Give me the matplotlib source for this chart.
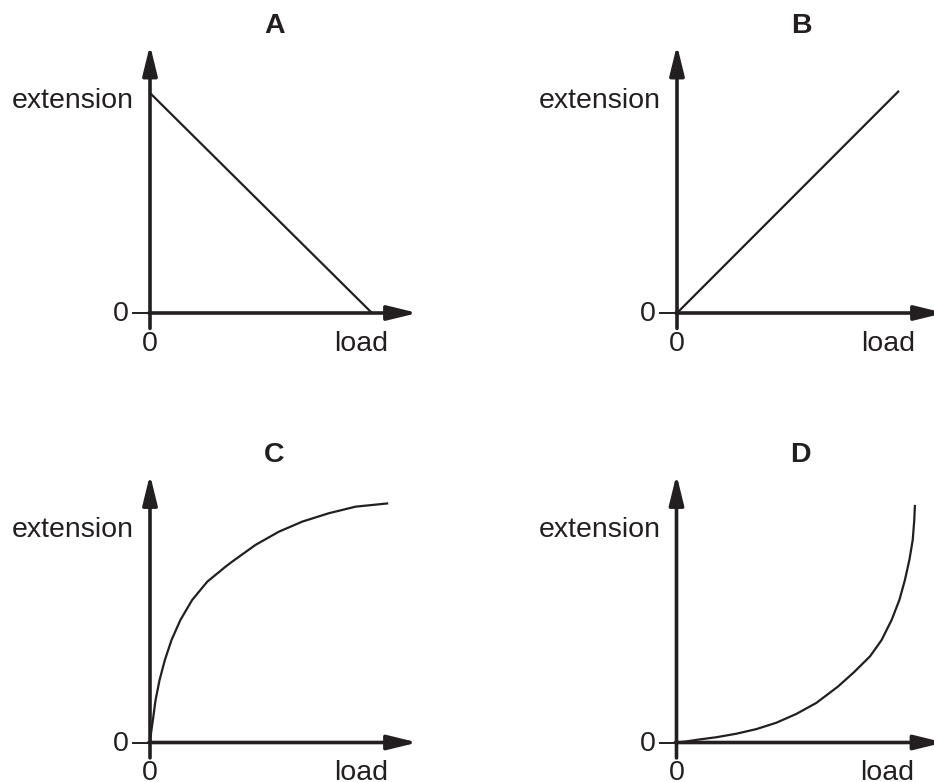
import matplotlib
matplotlib.use("Agg")
import matplotlib.pyplot as plt

plt.rcParams['font.family'] = ['Liberation Sans', 'DejaVu Sans']

# ---- data (load, extension) in relative units ----
panel_titles = ["A", "B", "C", "D"]
x_label = "load"
y_label = "extension"
zero_label = "0"

a_load = [0.0, 1.0]
a_ext = [1.0, 0.0]

b_load = [0.0, 1.0]
b_ext = [0.0, 1.01]

c_load = [0.0, 0.003, 0.007, 0.013, 0.025, 0.043, 0.067, 0.097, 0.137,
          0.190, 0.258, 0.340, 0.370, 0.475, 0.580, 0.686, 0.805, 0.926, 1.073]
c_ext = [0.0, 0.030, 0.060, 0.102, 0.193, 0.284, 0.375, 0.466, 0.557,
         0.648, 0.731, 0.799, 0.822, 0.898, 0.958, 1.004, 1.042, 1.072, 1.087]

d_load = [0.0, 0.040, 0.090, 0.180, 0.270, 0.360, 0.450, 0.540, 0.630,
          0.727, 0.800, 0.872, 0.924, 0.969, 1.004, 1.029, 1.049, 1.064,
          1.071, 1.074]
d_ext = [0.0, 0.004, 0.012, 0.024, 0.040, 0.061, 0.090, 0.130, 0.180,
         0.254, 0.320, 0.392, 0.466, 0.557, 0.648, 0.739, 0.830, 0.920,
         1.011, 1.080]

series = [(a_load, a_ext), (b_load, b_ext), (c_load, c_ext), (d_load, d_ext)]

# ---- layout ----
W, H = 934, 782
fig = plt.figure(figsize=(W / 100, H / 100), dpi=100)
fig.patch.set_facecolor("white")

XU, YU = 222.0, 220.0            # pixels per unit
XMIN, XMAX, YMIN, YMAX = -0.2, 1.25, -0.2, 1.25
origins = [(150, 313), (677, 313), (150, 742.5), (676.5, 742.5)]
ink = "#231f20"
fs = 20.5
arrow = "-|>,head_length=0.9,head_width=0.22"

for (ox, oy), title, (xs, ys) in zip(origins, panel_titles, series):
    left = (ox + XMIN * XU) / W
    bottom = (H - (oy - YMIN * YU)) / H
    width = (XMAX - XMIN) * XU / W
    height = (YMAX - YMIN) * YU / H
    ax = fig.add_axes([left, bottom, width, height])
    ax.set_xlim(XMIN, XMAX)
    ax.set_ylim(YMIN, YMAX)
    ax.axis("off")

    # curve
    ax.plot(xs, ys, color=ink, lw=1.6, solid_capstyle="butt",
            solid_joinstyle="round", clip_on=False)

    # axes with arrows
    ax.annotate("", xy=(0, 1.218), xytext=(0, -0.07),
                arrowprops=dict(arrowstyle=arrow, mutation_scale=20, lw=2.6,
                                color=ink, shrinkA=0, shrinkB=0),
                annotation_clip=False)
    ax.annotate("", xy=(1.205, 0), xytext=(-0.005, 0),
                arrowprops=dict(arrowstyle=arrow, mutation_scale=20, lw=2.6,
                                color=ink, shrinkA=0, shrinkB=0),
                annotation_clip=False)
    ax.plot([-0.075, 0], [0, 0], color=ink, lw=1.4, clip_on=False)

    # texts
    ax.text(-0.072, 0.965, y_label, ha="right", va="center", fontsize=fs, color=ink)
    ax.text(-0.095, -0.005, zero_label, ha="right", va="center", fontsize=fs, color=ink)
    ax.text(0.0, -0.14, zero_label, ha="center", va="center", fontsize=fs, color=ink)
    ax.text(0.95, -0.14, x_label, ha="center", va="center", fontsize=fs, color=ink)
    ax.text(0.56, 1.305, title, ha="center", va="center", fontsize=fs,
            fontweight="bold", color=ink)

fig.savefig("out.png", dpi=100, facecolor="white")
